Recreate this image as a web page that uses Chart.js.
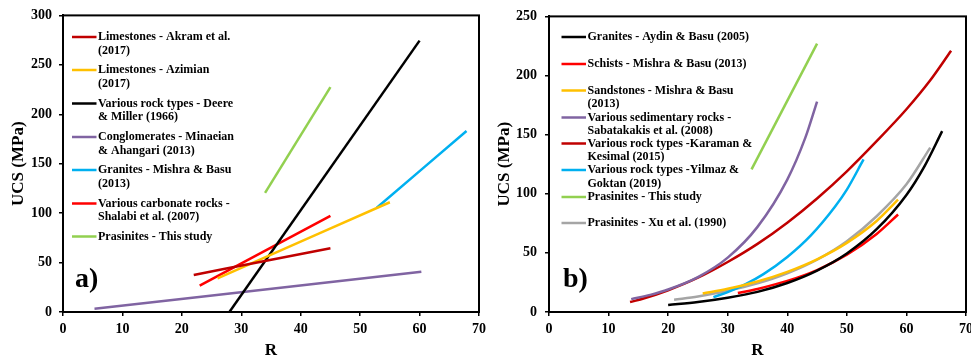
<!DOCTYPE html>
<html>
<head>
<meta charset="utf-8">
<script src="https://cdn.jsdelivr.net/npm/chart.js@4.4.1/dist/chart.umd.min.js"></script>
<style>
	html, body { margin: 0; padding: 0; background: #fff; overflow: hidden; width: 971px; height: 359px; }
	canvas { position: absolute; top: 0; }
	#chartA { left: 0; }
	#chartB { left: 480px; }
</style>
</head>
<body>
<canvas id="chartA" width="500" height="359"></canvas>
<canvas id="chartB" width="500" height="359"></canvas>
<script>
// panel a) linear correlations (R, UCS in MPa)
const akramR = [22, 45];
const akramUCS = [37.5, 64.5];
const azimianR = [26, 55];
const azimianUCS = [34, 111];
const deereR = [28, 60];
const deereUCS = [0, 274.5];
const minaeianR = [5.3, 60.3];
const minaeianUCS = [3.3, 40.7];
const granitesR = [52.8, 67.9];
const granitesUCS = [105.5, 183];
const shalabiR = [23, 45];
const shalabiUCS = [26.6, 97.3];
const studyR = [34, 45];
const studyUCS = [120.5, 227.5];

// panel b) non-linear correlations
const aydinR = [20, 25, 30, 35, 40, 45, 50, 55, 60, 63, 66];
const aydinUCS = [5.9, 8.4, 12, 17, 24.5, 35, 49.5, 70, 99, 123, 153];
const schistR = [31.7, 35, 40, 45, 50, 55, 58.6];
const schistUCS = [16, 19.5, 26.3, 35.5, 48.5, 66, 82.5];
const sandR = [25.8, 30, 35, 40, 45, 50, 55, 58.6];
const sandUCS = [15.7, 19.6, 25.8, 34, 44.6, 58.5, 77, 95];
const sabatR = [13.8, 17, 20, 25, 30, 35, 40, 43, 45];
const sabatUCS = [10.9, 14.5, 19, 29.5, 46, 72, 112, 147, 178];
const karamanR = [13.6, 16, 20, 25, 30, 35, 40, 45, 50, 55, 60, 64, 67.5];
const karamanUCS = [8.4, 11.6, 18.4, 29, 42.3, 57.6, 75.5, 96, 119, 144.5, 171.5, 196, 221];
const yilmazR = [27.6, 30, 33, 36, 40, 44, 48, 50, 52.8];
const yilmazUCS = [12.6, 16.8, 23.5, 32, 46.5, 65, 89, 103.5, 129];
const study2R = [34, 45];
const study2UCS = [120.6, 227];
const xuR = [21, 25, 30, 35, 40, 45, 50, 55, 60, 64];
const xuUCS = [10.4, 13.2, 17.9, 24.2, 32.7, 44.2, 59.8, 81, 108, 139];

const labelsA = [
	["Limestones - Akram et al.", "(2017)"],
	["Limestones - Azimian", "(2017)"],
	["Various rock types - Deere", "& Miller (1966)"],
	["Conglomerates - Minaeian", "& Ahangari (2013)"],
	["Granites - Mishra & Basu", "(2013)"],
	["Various carbonate rocks -", "Shalabi et al. (2007)"],
	["Prasinites - This study"],
];
const labelsB = [
	["Granites - Aydin & Basu (2005)"],
	["Schists - Mishra & Basu (2013)"],
	["Sandstones - Mishra & Basu", "(2013)"],
	["Various sedimentary rocks -", "Sabatakakis et al. (2008)"],
	["Various rock types -Karaman &", "Kesimal (2015)"],
	["Various rock types -Yilmaz &", "Goktan (2019)"],
	["Prasinites - This study"],
	["Prasinites - Xu et al. (1990)"],
];

const FONT = "'Liberation Serif', 'Times New Roman', serif";
Chart.defaults.font.family = FONT;
Chart.defaults.font.weight = "bold";
Chart.defaults.color = "#000";

const toPoints = (xs, ys) => xs.map((x, i) => ({ x: x, y: ys[i] }));

const makeSet = (lines, xs, ys, color) => ({
	label: lines.join(" "),
	lines: lines,
	data: toPoints(xs, ys),
	borderColor: color,
	backgroundColor: color,
	borderWidth: 2.5,
	pointRadius: 0,
	pointHoverRadius: 0,
	showLine: true,
	cubicInterpolationMode: "monotone",
});

// frame, in-plot legend and panel letter
const frameLegend = {
	id: "frameLegend",
	afterDraw(chart, args, opts) {
		const ctx = chart.ctx;
		const a = chart.chartArea;
		ctx.save();
		ctx.strokeStyle = "#000";
		ctx.lineWidth = 2;
		ctx.strokeRect(a.left, a.top, a.right - a.left, a.bottom - a.top);

		ctx.font = "bold 12px " + FONT;
		ctx.textBaseline = "middle";
		ctx.textAlign = "left";
		ctx.fillStyle = "#000";
		chart.data.datasets.forEach((ds, i) => {
			const y = opts.rows[i];
			ctx.strokeStyle = ds.borderColor;
			ctx.lineWidth = 2.5;
			ctx.beginPath();
			ctx.moveTo(opts.x1, y);
			ctx.lineTo(opts.x2, y);
			ctx.stroke();
			ds.lines.forEach((t, j) => ctx.fillText(t, opts.textX, y + j * 13.5));
		});

		ctx.font = "bold 28px " + FONT;
		ctx.textBaseline = "alphabetic";
		ctx.fillText(opts.tag, opts.tagX, opts.tagY);
		ctx.restore();
	},
};

const makeScales = (yMax, yWidth, yTickPad, yTitlePad) => ({
	x: {
		type: "linear",
		min: 0,
		max: 70,
		ticks: { stepSize: 10, font: { size: 14, weight: "bold" }, padding: 5, maxRotation: 0 },
		grid: { drawOnChartArea: false, color: "#000", lineWidth: 1.5, tickLength: 4 },
		border: { color: "#000", width: 2 },
		title: { display: true, text: "R", font: { size: 17, weight: "bold", lineHeight: 1 }, padding: 0 },
		afterFit: s => { s.height = 47; },
	},
	y: {
		type: "linear",
		min: 0,
		max: yMax,
		ticks: { stepSize: 50, font: { size: 14, weight: "bold" }, padding: yTickPad },
		grid: { drawOnChartArea: false, color: "#000", lineWidth: 1.5, tickLength: 4 },
		border: { color: "#000", width: 2 },
		title: { display: true, text: "UCS (MPa)", font: { size: 17, weight: "bold", lineHeight: 1 }, padding: { top: yTitlePad, bottom: 0 } },
		afterFit: s => { s.width = yWidth; },
	},
});

const colorsA = ["#C00000", "#FFC000", "#000000", "#8064A2", "#00B0F0", "#FF0000", "#92D050"];
const seriesA = [
	[akramR, akramUCS], [azimianR, azimianUCS], [deereR, deereUCS], [minaeianR, minaeianUCS],
	[granitesR, granitesUCS], [shalabiR, shalabiUCS], [studyR, studyUCS],
];

const colorsB = ["#000000", "#FF0000", "#FFC000", "#8064A2", "#C00000", "#00B0F0", "#92D050", "#A5A5A5"];
const seriesB = [
	[aydinR, aydinUCS], [schistR, schistUCS], [sandR, sandUCS], [sabatR, sabatUCS],
	[karamanR, karamanUCS], [yilmazR, yilmazUCS], [study2R, study2UCS], [xuR, xuUCS],
];

new Chart(document.getElementById("chartA"), {
	type: "scatter",
	data: {
		datasets: seriesA.map((s, i) => makeSet(labelsA[i], s[0], s[1], colorsA[i])),
	},
	options: {
		responsive: false,
		animation: false,
		layout: { padding: { left: 0, top: 15, right: 21, bottom: 0 } },
		scales: makeScales(300, 63, 7, 10),
		plugins: {
			legend: { display: false },
			tooltip: { enabled: false },
			frameLegend: {
				rows: [37, 70, 103.5, 137, 170, 203.5, 236.5],
				x1: 72, x2: 96.5, textX: 98,
				tag: "a)", tagX: 75, tagY: 287,
			},
		},
	},
	plugins: [frameLegend],
});

new Chart(document.getElementById("chartB"), {
	type: "scatter",
	data: {
		datasets: seriesB.map((s, i) => makeSet(labelsB[i], s[0], s[1], colorsB[i])),
	},
	options: {
		responsive: false,
		animation: false,
		layout: { padding: { left: 0, top: 15, right: 14, bottom: 0 } },
		scales: makeScales(250, 69, 8, 16.5),
		plugins: {
			legend: { display: false },
			tooltip: { enabled: false },
			frameLegend: {
				rows: [37, 64, 90.5, 117.5, 143.5, 170, 197, 223],
				x1: 81.5, x2: 106, textX: 107.5,
				tag: "b)", tagX: 83, tagY: 287,
			},
		},
	},
	plugins: [frameLegend],
});
</script>
</body>
</html>
